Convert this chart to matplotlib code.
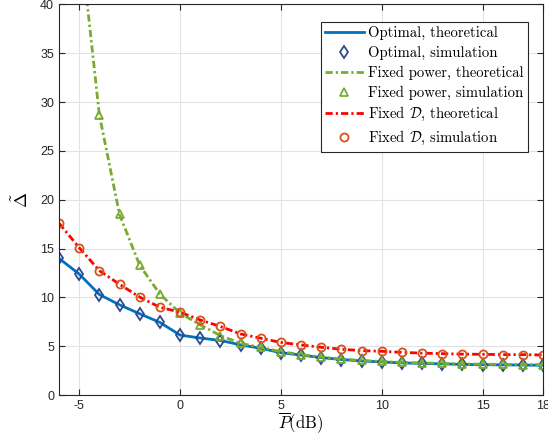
import numpy as np
import matplotlib
matplotlib.use("Agg")
import matplotlib.pyplot as plt

plt.rcParams['mathtext.fontset'] = 'cm'
plt.rcParams['font.family'] = ['Liberation Sans', 'DejaVu Sans']
plt.rcParams['axes.unicode_minus'] = False

# transmit power in dB
P_dB = np.arange(-6, 19)

# optimal scheme
opt_theory = [14.0, 12.4, 10.3, 9.25, 8.33, 7.45, 6.15, 5.85, 5.6, 5.15, 4.8,
              4.35, 4.1, 3.85, 3.65, 3.5, 3.4, 3.3, 3.25, 3.2, 3.15, 3.12, 3.1, 3.08, 3.06]
opt_sim = [14.05, 12.4, 10.3, 9.26, 8.33, 7.47, 6.17, 5.86, 5.59, 5.14, 4.8,
           4.35, 4.1, 3.85, 3.65, 3.5, 3.4, 3.3, 3.25, 3.2, 3.15, 3.12, 3.1, 3.08, 3.06]

# fixed power scheme
fp_theory = [80.0, 47.6, 28.7, 18.5, 13.3, 10.35, 8.4, 7.2, 6.1, 5.3, 4.9,
             4.45, 4.15, 3.9, 3.7, 3.55, 3.45, 3.35, 3.3, 3.25, 3.2, 3.17, 3.15, 3.13, 3.12]
fp_sim = [80.0, 47.6, 28.7, 18.5, 13.3, 10.35, 8.4, 7.2, 6.1, 5.3, 4.9,
          4.45, 4.15, 3.9, 3.7, 3.55, 3.45, 3.35, 3.3, 3.25, 3.2, 3.17, 3.15, 3.13, 3.12]

# fixed D scheme
fd_theory = [17.6, 15.1, 12.75, 11.35, 10.04, 9.0, 8.5, 7.7, 7.03, 6.27, 5.83,
             5.4, 5.14, 4.9, 4.7, 4.56, 4.49, 4.38, 4.3, 4.25, 4.2, 4.18, 4.15, 4.15, 4.11]
fd_sim = [17.6, 15.1, 12.75, 11.35, 10.04, 9.0, 8.5, 7.7, 7.03, 6.27, 5.83,
          5.4, 5.14, 4.9, 4.7, 4.56, 4.49, 4.38, 4.3, 4.25, 4.2, 4.18, 4.15, 4.15, 4.11]

xticks = [-5, 0, 5, 10, 15, 18]
yticks = np.arange(0, 41, 5)

dashdot = (2.6, 1.1, 0.8, 1.1)

fig = plt.figure(figsize=(5.48, 4.44), dpi=100)
ax = fig.add_axes([0.1077, 0.110, 0.8833, 0.880])

ax.plot(P_dB, opt_theory, '-', color='#0072BD', lw=2, label='Optimal, theoretical')
ax.plot(P_dB, opt_sim, 'd', color='#2A4B8D', mfc='none', mew=1.3, ms=6.5,
        label='Optimal, simulation')
ax.plot(P_dB, fp_theory, '-.', color='#77AC30', lw=2, dashes=dashdot,
        label='Fixed power, theoretical')
ax.plot(P_dB, fp_sim, '^', color='#77AC30', mfc='none', mew=1.3, ms=6,
        label='Fixed power, simulation')
ax.plot(P_dB, fd_theory, '-.', color='#FF0000', lw=2, dashes=dashdot,
        label=r'Fixed $\mathcal{D}$, theoretical')
ax.plot(P_dB, fd_sim, 'o', color='#D95319', mfc='none', mew=1.3, ms=5.8,
        label=r'Fixed $\mathcal{D}$, simulation')

ax.set_xlim(-6, 18)
ax.set_ylim(0, 40)
ax.set_xticks(xticks)
ax.set_yticks(yticks)
ax.grid(True, color='#e3e3e3', lw=0.8)
ax.set_axisbelow(True)
ax.tick_params(direction='in', top=True, right=True, labelsize=9,
               colors='#262626', length=4, width=0.8)
for s in ax.spines.values():
    s.set_color('#262626')
    s.set_linewidth(0.8)

ax.set_xlabel(r'$\overline{P}(\mathrm{dB})$', fontsize=12, labelpad=-1)
ax.set_ylabel(r'$\tilde{\Delta}$', fontsize=13, labelpad=6)

leg = ax.legend(loc='upper right', bbox_to_anchor=(0.969, 0.955), borderaxespad=0,
                prop={'family': 'cmr10', 'size': 10.6}, handlelength=2.6,
                handletextpad=0.3, borderpad=0.3, labelspacing=0.38,
                fancybox=False, framealpha=1, edgecolor='#262626')
leg.get_frame().set_linewidth(0.8)

fig.savefig('out.png', dpi=100)
